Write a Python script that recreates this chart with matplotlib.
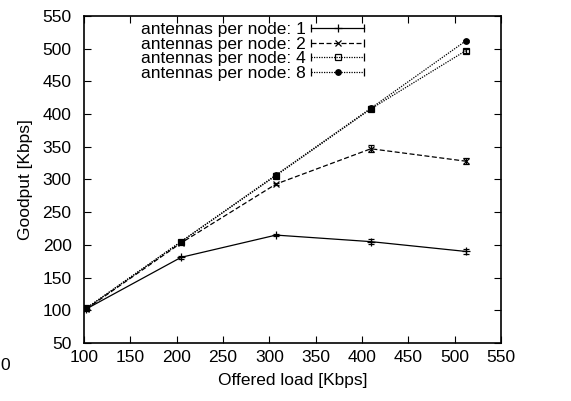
import numpy as np
import matplotlib.pyplot as plt
from matplotlib.lines import Line2D
from matplotlib.legend_handler import HandlerLine2D, HandlerTuple

plt.rcParams['font.family'] = ['Liberation Sans', 'DejaVu Sans']

load = [102.4, 204.8, 307.2, 409.6, 512.0]
g1 = [102, 181, 215, 205, 190]
g2 = [102, 203, 293, 347, 328]
g4 = [103, 205, 306, 408, 497]
g8 = [103, 205, 307, 409, 512]
e1 = [2, 2, 2, 4, 4]
e2 = [2, 2, 2, 5, 5]
e4 = [2, 3, 3, 3, 3]
e8 = [2, 3, 3, 3, 2]
labels = ['antennas per node: 1', 'antennas per node: 2',
          'antennas per node: 4', 'antennas per node: 8']

fs = 12.5
fig = plt.figure(figsize=(5.71, 4.01), dpi=100)
ax = fig.add_axes([84/571, 58/401, 417/571, 327/401])

styles = [('-', '+', 'k', 6), ((0, (4, 2)), 'x', 'k', 4),
          ((0, (1, 1)), 's', 'none', 4), ((0, (1, 1)), 'o', 'k', 4)]
handles = []
hmap = {}
for ys, es, lab, (ls, mk, fc, ms) in zip([g1, g2, g4, g8], [e1, e2, e4, e8], labels, styles):
    ax.errorbar(load, ys, yerr=es, color='k', linestyle=ls, lw=0.9,
                marker=mk, markersize=ms, markerfacecolor=fc, markeredgecolor='k',
                markeredgewidth=0.9, capsize=2, elinewidth=0.9)
    # gnuplot style key sample: horizontal bar with end caps and the point in the middle
    caps = Line2D([], [], color='k', linestyle=ls, lw=0.9, marker='|', markersize=6,
                  markeredgewidth=0.9)
    pt = Line2D([], [], color='k', linestyle='none', marker=mk, markersize=ms,
                markerfacecolor=fc, markeredgecolor='k', markeredgewidth=0.9)
    hmap[caps] = HandlerLine2D(numpoints=2, marker_pad=0)
    hmap[pt] = HandlerLine2D(numpoints=1)
    handles.append((caps, pt))
hmap[tuple] = HandlerTuple(ndivide=1)

ax.set_xlim(100, 550)
ax.set_ylim(50, 550)
ax.set_xticks(np.arange(100, 551, 50))
ax.set_yticks(np.arange(50, 551, 50))
ax.tick_params(direction='in', top=True, right=True, labelsize=fs, length=5)
ax.tick_params(axis='y', pad=9)
ax.tick_params(axis='x', pad=5)
for s in ax.spines.values():
    s.set_linewidth(1.2)
ax.set_xlabel('Offered load [Kbps]', fontsize=fs, labelpad=6)
ax.set_ylabel('Goodput [Kbps]', fontsize=fs, labelpad=7)

leg = fig.legend(handles, labels, handler_map=hmap, loc='upper right',
                 bbox_to_anchor=(366/571, (401-20)/401), frameon=False, markerfirst=False,
                 fontsize=fs, handlelength=3.05, labelspacing=-0.02, borderaxespad=0,
                 borderpad=0.1, handletextpad=0.3)
fig.text(0.0, (401-365)/401, '0', fontsize=fs, va='center', ha='left')

fig.savefig('out.png', dpi=100)
